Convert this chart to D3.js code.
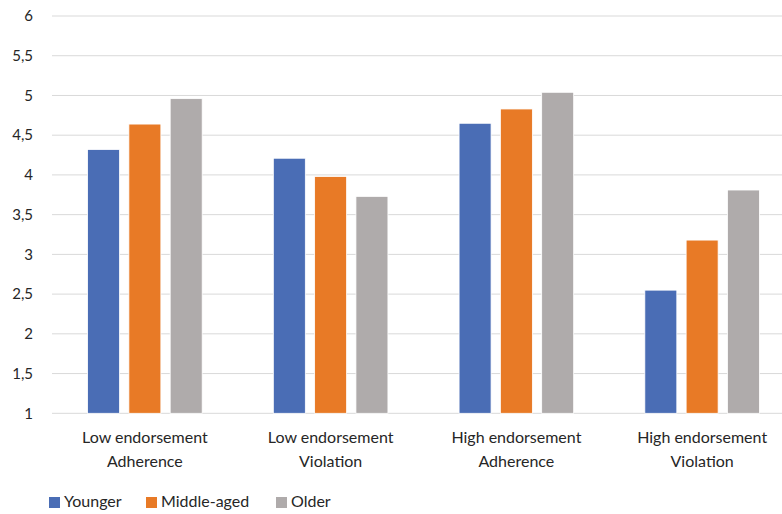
<!DOCTYPE html>
<html>
<head>
<meta charset="utf-8">
<script src="https://cdn.jsdelivr.net/npm/d3@7"></script>
<style>
  html, body { margin: 0; padding: 0; background: #fff; }
  svg { display: block; font-family: Lato, "Open Sans", sans-serif; }
</style>
</head>
<body>
<svg id="chart" width="782" height="514"></svg>
<script>
// Mean ratings by age group across the four conditions
const categories = [
  ["Low endorsement", "Adherence"],
  ["Low endorsement", "Violation"],
  ["High endorsement", "Adherence"],
  ["High endorsement", "Violation"]
];
const seriesNames = ["Younger", "Middle-aged", "Older"];
const younger    = [4.32, 4.21, 4.65, 2.55];
const middleAged = [4.64, 3.98, 4.83, 3.18];
const older      = [4.96, 3.73, 5.04, 3.81];
const yTicks = [1, 1.5, 2, 2.5, 3, 3.5, 4, 4.5, 5, 5.5, 6];
const colors = ["#4A6DB5", "#E87A26", "#AFABAB"];

const series = [younger, middleAged, older];
const svg = d3.select("#chart");

const x0 = d3.scaleBand().domain(d3.range(categories.length)).range([52, 795]).paddingInner(0).paddingOuter(0);
const y = d3.scaleLinear().domain([1, 6]).range([413.3, 16]);
const barW = 32, barStep = 41.3;

// Horizontal gridlines
svg.append("g").selectAll("line").data(yTicks).join("line")
  .attr("x1", 52).attr("x2", 782)
  .attr("y1", d => y(d)).attr("y2", d => y(d))
  .attr("stroke", "#d9d9d9").attr("stroke-width", 1);

// Y tick labels (comma decimal separator)
svg.append("g").selectAll("text").data(yTicks).join("text")
  .attr("x", 33).attr("y", d => y(d)).attr("dy", "0.35em")
  .attr("text-anchor", "end")
  .attr("font-size", 15).attr("fill", "#262626")
  .text(d => String(d).replace(".", ","));

// Bars, one group per age series
series.forEach((vals, si) => {
  svg.append("g").selectAll("rect").data(vals).join("rect")
    .attr("x", (d, i) => x0(i) + x0.bandwidth() / 2 + (si - 1) * barStep - barW / 2)
    .attr("y", d => y(d))
    .attr("width", barW)
    .attr("height", d => y(1) - y(d))
    .attr("fill", colors[si])
    .attr("stroke", "#ffffff").attr("stroke-width", 0.8);
});

// Two-line category labels
const labels = svg.append("g").selectAll("text").data(categories).join("text")
  .attr("text-anchor", "middle")
  .attr("font-size", 16).attr("fill", "#262626")
  .attr("transform", (d, i) => `translate(${x0(i) + x0.bandwidth() / 2},0)`);
labels.selectAll("tspan").data(d => d).join("tspan")
  .attr("x", 0).attr("y", (d, j) => 443 + j * 24)
  .text(d => d);

// Legend
const legendX = [49, 146, 276];
const legend = svg.append("g").selectAll("g").data(seriesNames).join("g")
  .attr("transform", (d, i) => `translate(${legendX[i]},497)`);
legend.append("rect").attr("width", 11).attr("height", 11).attr("fill", (d, i) => colors[i]);
legend.append("text").attr("x", 15).attr("y", 10).attr("font-size", 16).attr("fill", "#262626").text(d => d);
</script>
</body>
</html>
